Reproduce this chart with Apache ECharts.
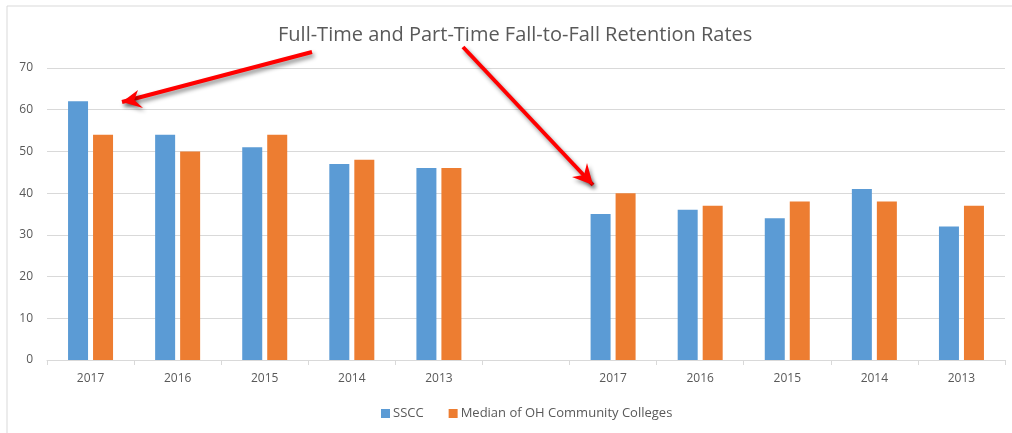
<!DOCTYPE html>
<html>
<head>
<meta charset="utf-8">
<script src="https://cdn.jsdelivr.net/npm/echarts@6/dist/echarts.min.js"></script>
<style>
  html, body { margin: 0; padding: 0; background: #fff; }
  #chart { width: 1012px; height: 433px; }
</style>
</head>
<body>
<div id="chart"></div>
<script>
// full-time years, a blank gap, then part-time years
const categories = ['2017', '2016', '2015', '2014', '2013', '', '2017', '2016', '2015', '2014', '2013']
const sscc = [62, 54, 51, 47, 46, '-', 35, 36, 34, 41, 32]
const median = [54, 50, 54, 48, 46, '-', 40, 37, 38, 38, 37]
const yTicks = { min: 0, max: 70, interval: 10 }

const textColor = '#595959'
const lineColor = '#d9d9d9'
const font = '"Open Sans", sans-serif'

// red call-out arrows (tail, tip, two wing points)
function arrow(tail, tip, w1, w2) {
  const shadow = { shadowBlur: 4, shadowColor: 'rgba(0,0,0,0.45)', shadowOffsetX: 2, shadowOffsetY: 3 }
  return [
    {
      type: 'polyline',
      z: 100,
      shape: { points: [tail, tip] },
      style: Object.assign({ stroke: '#ff0000', lineWidth: 4, fill: null }, shadow)
    },
    {
      type: 'polygon',
      z: 100,
      shape: { points: [tip, w1, [(tip[0] + w1[0] + w2[0]) / 3, (tip[1] + w1[1] + w2[1]) / 3], w2] },
      style: Object.assign({ fill: '#ff0000' }, shadow)
    }
  ]
}

const chart = echarts.init(document.getElementById('chart'))
chart.setOption({
  animation: false,
  textStyle: { fontFamily: font },
  title: {
    text: 'Full-Time and Part-Time Fall-to-Fall Retention Rates',
    left: 273,
    top: 20,
    textStyle: { color: textColor, fontSize: 20, fontWeight: 'normal', fontFamily: font }
  },
  legend: {
    left: 381,
    top: 407,
    padding: 0,
    itemWidth: 9,
    itemHeight: 9,
    itemGap: 25,
    icon: 'rect',
    textStyle: { color: textColor, fontSize: 13, padding: [0, 0, 0, -2] },
    data: ['SSCC', 'Median of OH Community Colleges']
  },
  grid: { left: 47, right: 7, top: 68, bottom: 73 },
  xAxis: {
    type: 'category',
    data: categories,
    axisLine: { lineStyle: { color: lineColor } },
    axisTick: { show: true, length: 5, lineStyle: { color: lineColor } },
    axisLabel: { color: textColor, fontSize: 12, margin: 13 }
  },
  yAxis: {
    type: 'value',
    min: yTicks.min,
    max: yTicks.max,
    interval: yTicks.interval,
    axisLine: { show: false },
    axisTick: { show: false },
    axisLabel: { color: textColor, fontSize: 12, margin: 14 },
    splitLine: { lineStyle: { color: lineColor } }
  },
  series: [
    {
      name: 'SSCC',
      type: 'bar',
      barWidth: 20,
      barGap: '25%',
      itemStyle: { color: '#5b9bd5' },
      data: sscc
    },
    {
      name: 'Median of OH Community Colleges',
      type: 'bar',
      barWidth: 20,
      itemStyle: { color: '#ed7d31' },
      data: median
    }
  ],
  graphic: [
    {
      type: 'rect',
      shape: { x: 7, y: 6, width: 1010, height: 432 },
      style: { stroke: lineColor, fill: null, lineWidth: 1 }
    }
  ].concat(
    arrow([312, 52], [122, 102], [138, 90], [143, 108]),
    arrow([463, 47], [593, 185], [587, 163], [572, 177])
  )
})
</script>
</body>
</html>
